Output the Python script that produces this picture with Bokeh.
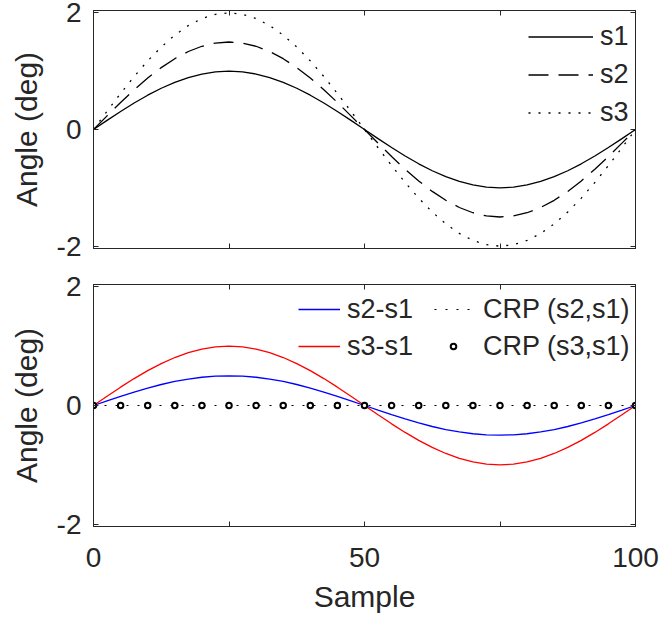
from bokeh.plotting import figure
from bokeh.layouts import column
from bokeh.models import (LinearAxis, FixedTicker, Range1d, Legend, LegendItem,
                          CustomLabelingPolicy)
from bokeh.embed import file_html
from bokeh.resources import INLINE

# ---- data ----
SAMPLE = [0, 2.5, 5, 7.5, 10, 12.5, 15, 17.5, 20, 22.5, 25, 27.5, 30, 32.5, 35, 37.5,
          40, 42.5, 45, 47.5, 50, 52.5, 55, 57.5, 60, 62.5, 65, 67.5, 70, 72.5, 75,
          77.5, 80, 82.5, 85, 87.5, 90, 92.5, 95, 97.5, 100]
S1 = [0, 0.156, 0.309, 0.454, 0.588, 0.707, 0.809, 0.891, 0.951, 0.988, 1.0,
      0.988, 0.951, 0.891, 0.809, 0.707, 0.588, 0.454, 0.309, 0.156, 0,
      -0.156, -0.309, -0.454, -0.588, -0.707, -0.809, -0.891, -0.951, -0.988, -1.0,
      -0.988, -0.951, -0.891, -0.809, -0.707, -0.588, -0.454, -0.309, -0.156, 0]
S2 = [0, 0.234, 0.464, 0.681, 0.882, 1.061, 1.214, 1.337, 1.427, 1.482, 1.5,
      1.482, 1.427, 1.337, 1.214, 1.061, 0.882, 0.681, 0.464, 0.234, 0,
      -0.234, -0.464, -0.681, -0.882, -1.061, -1.214, -1.337, -1.427, -1.482, -1.5,
      -1.482, -1.427, -1.337, -1.214, -1.061, -0.882, -0.681, -0.464, -0.234, 0]
S3 = [0, 0.313, 0.618, 0.908, 1.176, 1.414, 1.618, 1.782, 1.902, 1.975, 2.0,
      1.975, 1.902, 1.782, 1.618, 1.414, 1.176, 0.908, 0.618, 0.313, 0,
      -0.313, -0.618, -0.908, -1.176, -1.414, -1.618, -1.782, -1.902, -1.975, -2.0,
      -1.975, -1.902, -1.782, -1.618, -1.414, -1.176, -0.908, -0.618, -0.313, 0]
S2_MINUS_S1 = [0, 0.078, 0.155, 0.227, 0.294, 0.354, 0.405, 0.446, 0.476, 0.494, 0.5,
               0.494, 0.476, 0.446, 0.405, 0.354, 0.294, 0.227, 0.155, 0.078, 0,
               -0.078, -0.155, -0.227, -0.294, -0.354, -0.405, -0.446, -0.476, -0.494, -0.5,
               -0.494, -0.476, -0.446, -0.405, -0.354, -0.294, -0.227, -0.155, -0.078, 0]
S3_MINUS_S1 = [0, 0.156, 0.309, 0.454, 0.588, 0.707, 0.809, 0.891, 0.951, 0.988, 1.0,
               0.988, 0.951, 0.891, 0.809, 0.707, 0.588, 0.454, 0.309, 0.156, 0,
               -0.156, -0.309, -0.454, -0.588, -0.707, -0.809, -0.891, -0.951, -0.988, -1.0,
               -0.988, -0.951, -0.891, -0.809, -0.707, -0.588, -0.454, -0.309, -0.156, 0]
CRP21_X = [0, 100]
CRP21_Y = [0, 0]
CRP31_X = [0, 5, 10, 15, 20, 25, 30, 35, 40, 45, 50, 55, 60, 65, 70, 75, 80, 85, 90, 95, 100]
CRP31_Y = [0, 0, 0, 0, 0, 0, 0, 0, 0, 0, 0, 0, 0, 0, 0, 0, 0, 0, 0, 0, 0]

X_TICKS = [0, 25, 50, 75, 100]
X_TICK_LABELS = {0: "0", 25: "", 50: "50", 75: "", 100: "100"}
Y_TICKS = [-2, 0, 2]
Y_TICK_LABELS = {-2: "-2", 0: "0", 2: "2"}
TOP_LABELS = ["s1", "s2", "s3"]
BOTTOM_LABELS = ["s2-s1", "s3-s1", "CRP (s2,s1)", "CRP (s3,s1)"]
X_LABEL = "Sample"
Y_LABEL = "Angle (deg)"

TEXT = "#262626"
FONT = "Liberation Sans"
TICK_SIZE = "28px"
LABEL_SIZE = "30px"
LEG_SIZE = "27px"


def style_axis(ax, ticks, labels, show_labels):
    ax.ticker = FixedTicker(ticks=ticks)
    ax.major_label_overrides = labels
    ax.major_tick_in = 5
    ax.major_tick_out = 0
    ax.minor_tick_line_color = None
    ax.axis_line_color = TEXT
    ax.major_tick_line_color = TEXT
    ax.major_label_text_color = TEXT
    ax.major_label_text_font = FONT
    if show_labels:
        ax.major_label_text_font_size = TICK_SIZE
    else:
        ax.major_label_text_font_size = "1px"
        ax.major_label_standoff = 0
        ax.major_label_policy = CustomLabelingPolicy(code="return []")
    ax.axis_label_text_font = FONT
    ax.axis_label_text_font_size = LABEL_SIZE
    ax.axis_label_text_color = TEXT
    ax.axis_label_text_font_style = "normal"


def make_fig(height, top, bottom, show_x):
    p = figure(width=660, height=height, x_range=Range1d(0, 100),
               y_range=Range1d(-2.04, 2.04), output_backend="svg",
               toolbar_location=None, min_border_left=93, min_border_right=25,
               min_border_top=top, min_border_bottom=bottom)
    p.grid.visible = False
    p.outline_line_color = TEXT
    p.outline_line_width = 1
    p.background_fill_color = "white"
    p.border_fill_color = "white"
    xb = p.below[0]
    style_axis(xb, X_TICKS, X_TICK_LABELS, show_x)
    if show_x:
        xb.major_label_standoff = 21
    yl = p.left[0]
    style_axis(yl, Y_TICKS, Y_TICK_LABELS, True)
    yl.major_label_standoff = 12
    yl.axis_label = Y_LABEL
    yl.axis_label_standoff = 11
    ax_top = LinearAxis()
    style_axis(ax_top, X_TICKS, X_TICK_LABELS, False)
    p.add_layout(ax_top, "above")
    ax_right = LinearAxis()
    style_axis(ax_right, Y_TICKS, Y_TICK_LABELS, False)
    p.add_layout(ax_right, "right")
    return p


# ---- top panel ----
p1 = make_fig(266, 10, 18, False)
r1 = p1.line(SAMPLE, S1, line_color="black", line_width=1.3)
r2 = p1.line(SAMPLE, S2, line_color="black", line_width=1.3, line_dash="20 10")
r3 = p1.line(SAMPLE, S3, line_color="black", line_width=1.3, line_dash="2 8")
leg1 = Legend(items=[LegendItem(label=TOP_LABELS[0], renderers=[r1]),
                     LegendItem(label=TOP_LABELS[1], renderers=[r2]),
                     LegendItem(label=TOP_LABELS[2], renderers=[r3])],
              location=(435, 117), margin=0, padding=0, spacing=1,
              glyph_width=65, glyph_height=37, label_height=37, label_standoff=7,
              label_text_font=FONT, label_text_font_size=LEG_SIZE,
              label_text_color=TEXT, border_line_color=None,
              background_fill_alpha=0)
p1.add_layout(leg1)

# ---- bottom panel ----
p2 = make_fig(353, 18, 93, True)
p2.below[0].axis_label = X_LABEL
p2.below[0].axis_label_standoff = 10
b1 = p2.line(SAMPLE, S2_MINUS_S1, line_color="#0000ff", line_width=1.3)
b2 = p2.line(SAMPLE, S3_MINUS_S1, line_color="#ff0000", line_width=1.3)
b3 = p2.line(CRP21_X, CRP21_Y, line_color="black", line_width=1.2, line_dash="2 9")
b4 = p2.scatter(CRP31_X, CRP31_Y, marker="circle", size=5.5, line_color="black",
                line_width=2, fill_color="white")

common = dict(margin=0, padding=0, spacing=1, label_height=36,
              label_text_font=FONT, label_text_font_size=LEG_SIZE,
              label_text_color=TEXT, border_line_color=None, background_fill_alpha=0)
legA = Legend(items=[LegendItem(label=BOTTOM_LABELS[0], renderers=[b1]),
                     LegendItem(label=BOTTOM_LABELS[1], renderers=[b2])],
              location=(205, 162), glyph_width=42, glyph_height=36,
              label_standoff=7, **common)
legB = Legend(items=[LegendItem(label=BOTTOM_LABELS[2], renderers=[b3]),
                     LegendItem(label=BOTTOM_LABELS[3], renderers=[b4])],
              location=(341, 162), glyph_width=38, glyph_height=14,
              label_standoff=11, **common)
p2.add_layout(legA)
p2.add_layout(legB)

layout = column(p1, p2, spacing=0)
open("out.html", "w").write(file_html(layout, INLINE))
